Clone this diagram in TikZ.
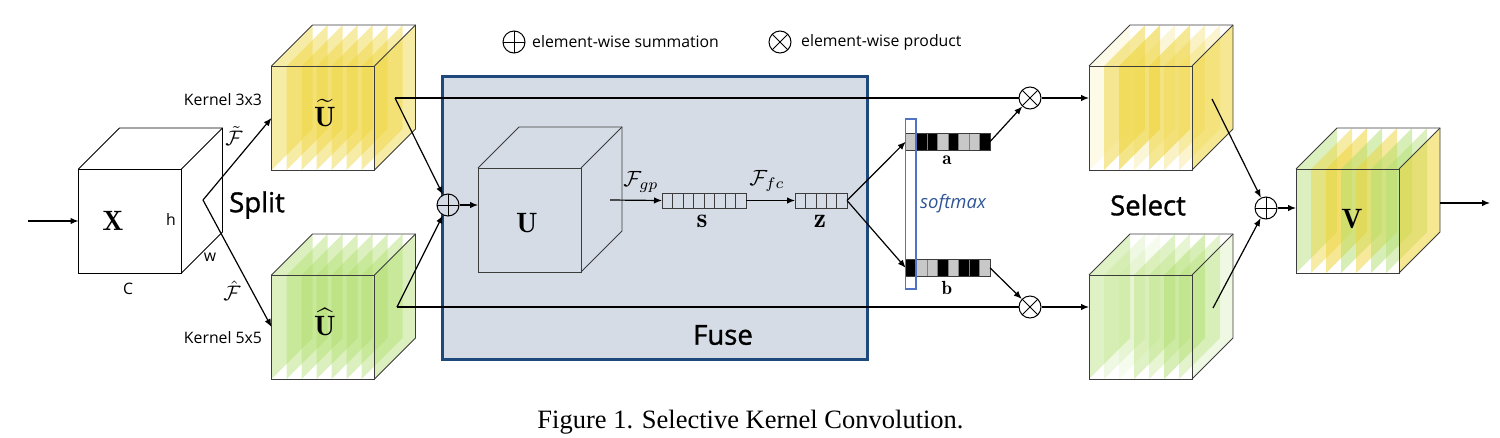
\RequirePackage{fix-cm}
\documentclass[tikz,border=0pt]{standalone}
\usepackage{fontspec}
\newfontfamily\ys{Open Sans}
\newfontfamily\ysb[FakeBold=1.2]{Open Sans}
\newfontfamily\capfont{Liberation Serif}
\usetikzlibrary{arrows.meta}
\definecolor{ycol}{RGB}{238,212,58}
\definecolor{gcol}{RGB}{176,222,110}
\definecolor{fusefill}{RGB}{213,220,230}
\definecolor{fuseblue}{RGB}{31,73,125}
\definecolor{cubeline}{RGB}{60,60,60}
\definecolor{cellgray}{RGB}{200,200,200}
\definecolor{smblue}{RGB}{80,115,196}
\definecolor{smtext}{RGB}{47,85,151}
\newcommand\mySlab[4]{\fill[#3,fill opacity=#4] (#1,#2+104) -- (#1,#2) -- (#1+41,#2-41) -- (#1+41,#2+63) -- cycle;}
\newcommand\myCube[3]{\foreach \sx/\sc/\so in {#3} {\mySlab{#1+\sx}{#2}{\sc}{\so}}}
\newcommand\myBack[1]{\draw[cubeedge] (#1.north west) -- ++(41,-41) -- ++(103,0) -- ++(0,104) -- (#1.south east);
  \draw[cubeedge] (#1.north east) -- ++(41,-41);}
\begin{document}
\begin{tikzpicture}[x=1pt,y=-1pt,
  conn/.style={line width=1.2pt,-{Latex[length=8pt,width=6.5pt]}},
  plain/.style={line width=1.2pt},
  cubeedge/.style={draw=cubeline,line width=0.9pt},
  face/.style={draw=cubeline,line width=0.9pt,minimum width=103pt,minimum height=104pt,inner sep=0pt,outer sep=0pt},
  oplus/.style={circle,draw,fill=white,line width=1pt,minimum size=22pt,inner sep=0pt,
    path picture={\draw[line width=1pt] (path picture bounding box.north) -- (path picture bounding box.south)
      (path picture bounding box.west) -- (path picture bounding box.east);}},
  otimes/.style={circle,draw,fill=white,line width=1pt,minimum size=22pt,inner sep=0pt,
    path picture={\draw[line width=1pt] (path picture bounding box.north west) -- (path picture bounding box.south east)
      (path picture bounding box.north east) -- (path picture bounding box.south west);}},
  vec/.style={draw=cubeline,line width=0.9pt,minimum height=15pt,inner sep=0pt,outer sep=0pt},
  abvec/.style={draw=cubeline,line width=0.7pt,minimum width=84.3pt,minimum height=16.7pt,inner sep=0pt,outer sep=0pt},
  small/.style={font=\ys\fontsize{15.8}{18}\selectfont},
  big/.style={font=\ysb\fontsize{27.5}{32}\selectfont},
  mlab/.style={font=\normalsize,inner sep=0pt}
]
\useasboundingbox (0,0) rectangle (1500,437);

% legend
\node[oplus] (leg1) at (514,42) {};
\node[small,anchor=west,inner sep=0pt] (leg1t) at (532,42) {element-wise summation};
\node[otimes] (leg2) at (780,42) {};
\node[small,anchor=west,inner sep=0pt] (leg2t) at (801,42) {element-wise product};

% fuse box
\node[draw=fuseblue,line width=3.4pt,fill=fusefill,minimum width=425pt,minimum height=282.8pt,inner sep=0pt] (fuse) at (655,217.9) {};
\node[big] (fusel) at (723,335) {Fuse};

% X cube
\node[face,draw=black] (X) at (130,221) {};
\draw[line width=0.9pt] (X.north west) -- ++(41,-41) -- ++(103,0) -- ++(0,104) -- (X.south east);
\draw[line width=0.9pt] (X.north east) -- ++(41,-41);
\node[mlab] (Xl) at (113,221) {\scalebox{2.8}{$\mathbf{X}$}};
\node[small] (hl) at (171,219) {h};
\node[small] (wl) at (210,257) {w};
\node[small] (cl) at (128,289) {C};

% U tilde cube
\myCube{271.5}{66}{0/ycol/0.45,15/ycol/0.45,30/ycol/0.45,45/ycol/0.45,60/ycol/0.45,75/ycol/0.45,90/ycol/0.45,103/ycol/0.45}
\node[face] (ut) at (323,118) {};
\myBack{ut}
\node[mlab] (utl) at (325,113) {\scalebox{2.8}{$\widetilde{\mathbf{U}}$}};

% U hat cube
\myCube{271.5}{275}{0/gcol/0.45,15/gcol/0.45,30/gcol/0.45,45/gcol/0.45,60/gcol/0.45,75/gcol/0.45,90/gcol/0.45,103/gcol/0.45}
\node[face] (uh) at (323,327) {};
\myBack{uh}
\node[mlab] (uhl) at (325,322) {\scalebox{2.8}{$\widehat{\mathbf{U}}$}};

\node[small] (k3) at (223,100) {Kernel 3x3};
\node[small] (k5) at (223,338) {Kernel 5x5};
\node[mlab] (ftl) at (234,136) {\scalebox{2.1}{$\tilde{\mathcal{F}}$}};
\node[mlab] (fhl) at (232,291) {\scalebox{2.1}{$\hat{\mathcal{F}}$}};
\node[big] (splitl) at (257,205) {Split};

% U cube
\node[face] (U) at (529.5,220) {};
\myBack{U}
\node[mlab] (Ul) at (527,223) {\scalebox{2.8}{$\mathbf{U}$}};

% s and z vectors
\node[vec,minimum width=84pt] (s) at (704,200.5) {};
\foreach \k in {1,...,7} \draw[draw=cubeline,line width=0.6pt] (662+\k*10.5,193) -- (662+\k*10.5,208);
\node[mlab] (sl) at (702,221) {\scalebox{2.75}{$\mathbf{s}$}};
\node[vec,minimum width=52pt] (z) at (821,200.5) {};
\foreach \k in {1,...,4} \draw[draw=cubeline,line width=0.6pt] (795+\k*10.4,193) -- (795+\k*10.4,208);
\node[mlab] (zl) at (820,221) {\scalebox{2.75}{$\mathbf{z}$}};
\node[mlab] (fgp) at (641,182) {\scalebox{2.2}{$\mathcal{F}_{gp}$}};
\node[mlab] (ffc) at (767,181) {\scalebox{2.2}{$\mathcal{F}_{fc}$}};

% a and b vectors
\foreach \k/\cc in {0/cellgray,1/black,2/black,3/cellgray,4/black,5/cellgray,6/cellgray,7/black}
  \filldraw[fill=\cc,draw=gray,line width=0.5pt] (905.7+\k*10.54,133.3) rectangle ++(10.54,16.7);
\node[abvec] (a) at (947.85,141.65) {};
\foreach \k/\cc in {0/black,1/cellgray,2/cellgray,3/black,4/cellgray,5/black,6/black,7/cellgray}
  \filldraw[fill=\cc,draw=gray,line width=0.5pt] (905.7+\k*10.54,259.5) rectangle ++(10.54,16.7);
\node[abvec] (b) at (947.85,267.85) {};
\node[mlab] (al) at (947,160) {\scalebox{1.9}{$\mathbf{a}$}};
\node[mlab] (bl) at (947,288) {\scalebox{1.9}{$\mathbf{b}$}};
\node[draw=smblue,line width=1.1pt,minimum width=10.3pt,minimum height=170pt,inner sep=0pt] (sm) at (910.8,204) {};
\node[font=\ys\itshape\fontsize{18.5}{21}\selectfont,text=smtext,anchor=west,inner sep=0pt] (sml) at (920,204) {softmax};

% select cubes
\myCube{1089}{66}{0/ycol/0.12,15/ycol/0.5,30/ycol/0.6,45/ycol/0.2,60/ycol/0.55,75/ycol/0.3,90/ycol/0.25,103/ycol/0.55}
\node[face] (sy) at (1140.5,118) {};
\myBack{sy}
\myCube{1089}{275}{0/gcol/0.4,15/gcol/0.2,30/gcol/0.12,45/gcol/0.4,60/gcol/0.3,75/gcol/0.5,90/gcol/0.35,103/gcol/0.2}
\node[face] (sg) at (1140.5,327) {};
\myBack{sg}
\node[big] (selectl) at (1148,205) {Select};

% V cube
\myCube{1296}{169}{0/gcol/0.45,15/ycol/0.45,30/ycol/0.55,45/gcol/0.5,60/ycol/0.5,75/gcol/0.5,90/gcol/0.45,103/ycol/0.55}
\node[face] (V) at (1347.5,221) {};
\myBack{V}
\node[mlab] (Vl) at (1352,219) {\scalebox{2.8}{$\mathbf{V}$}};

% operators
\node[oplus,fill=fusefill] (add1) at (448,205) {};
\node[otimes] (mul1) at (1030,98) {};
\node[otimes] (mul2) at (1030,307) {};
\node[oplus] (add2) at (1266,208) {};

% connectors
\coordinate (in) at (28,221);
\coordinate (split) at (203,200);
\coordinate (utr) at (395,98);
\coordinate (uhr) at (397,307);
\coordinate (ur) at (610,200);
\coordinate (syr) at (1212,99);
\coordinate (sgr) at (1213,308);
\coordinate (vr) at (1440,203);
\coordinate (out) at (1490,203);

\draw[conn] (in) -- (X.west);
\draw[conn] (split) -- (ut.west);
\draw[conn] (split) -- (uh.west);
\draw[plain] (utr) -- (mul1);
\draw[plain] (uhr) -- (mul2);
\draw[conn] (utr) -- (add1);
\draw[conn] (uhr) -- (add1);
\draw[conn] (add1) -- (add1 -| U.west);
\draw[conn] (ur) -- (s.west);
\draw[conn] (s.east) -- (z.west);
\draw[conn] (z.east) -- (a.west);
\draw[conn] (z.east) -- (b.west);
\draw[conn] (a.east) -- (mul1);
\draw[conn] (b.east) -- (mul2);
\draw[conn] (mul1) -- (mul1 -| sy.west);
\draw[conn] (mul2) -- (mul2 -| sg.west);
\draw[conn] (syr) -- (add2);
\draw[conn] (sgr) -- (add2);
\draw[conn] (add2) -- (add2 -| V.west);
\draw[conn] (vr) -- (out);

% caption
\node[font=\capfont\fontsize{26.5}{30}\selectfont,inner sep=0pt,anchor=base] (cap) at (750.5,428) {Figure 1. Selective Kernel Convolution.};
\end{tikzpicture}
\end{document}
